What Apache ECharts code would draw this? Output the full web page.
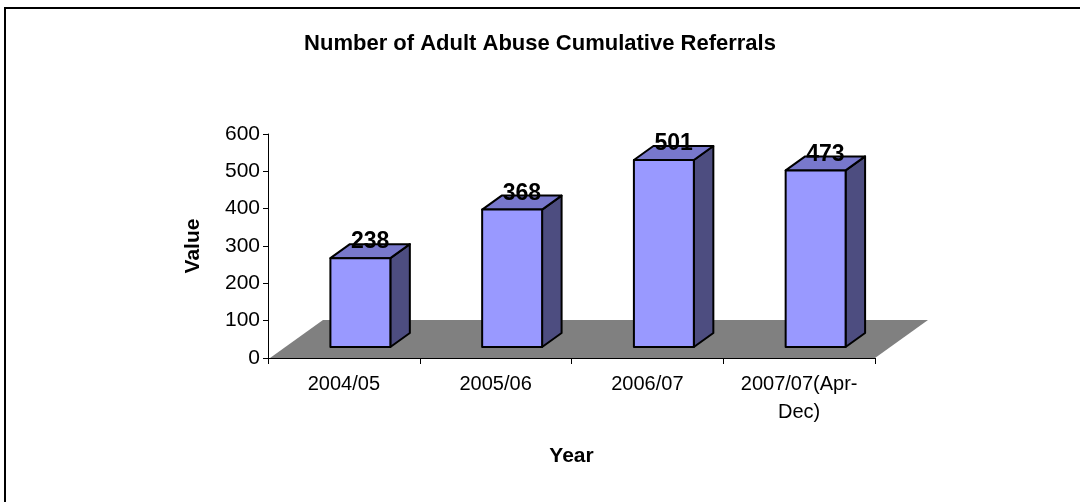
<!DOCTYPE html>
<html>
<head>
<meta charset="utf-8">
<script src="https://cdn.jsdelivr.net/npm/echarts@6/dist/echarts.min.js"></script>
<style>
html,body{margin:0;padding:0;background:#fff;}
#chart{width:1080px;height:502px;}
</style>
</head>
<body>
<div id="chart"></div>
<script>
const categories = ['2004/05', '2005/06', '2006/07', '2007/07(Apr-\nDec)'];
const values = [238, 368, 501, 473];
const yTicks = { min: 0, max: 600, interval: 100 };
const titleText = 'Number of Adult Abuse Cumulative Referrals';
const xName = 'Year';
const yName = 'Value';

const FONT = '"Liberation Sans", Arial, sans-serif';
const FLOOR_DX = 53, FLOOR_DY = 38;   // floor depth
const BAR_SHIFT_X = 16.5, BAR_SHIFT_Y = 11; // bar front position inside floor
const BAR_DX = 19.5, BAR_DY = 14;     // bar depth
const C_FRONT = '#9999FF', C_TOP = '#7878CC', C_SIDE = '#4D4D80', C_FLOOR = '#808080';

const chart = echarts.init(document.getElementById('chart'), null, { renderer: 'canvas' });

const option = {
  backgroundColor: '#ffffff',
  animation: false,
  graphic: [{
    type: 'rect', z: 100,
    shape: { x: 5, y: 8, width: 1200, height: 700 },
    style: { fill: 'none', stroke: '#000', lineWidth: 2 }
  }],
  title: {
    text: titleText, left: 'center', top: 28,
    textStyle: { fontFamily: FONT, fontSize: 22, fontWeight: 'bold', color: '#000' }
  },
  grid: { left: 268, right: 205, top: 134, bottom: 144, containLabel: false },
  xAxis: {
    type: 'category', data: categories, boundaryGap: true,
    name: xName, nameLocation: 'middle', nameGap: 88,
    nameTextStyle: { fontFamily: FONT, fontSize: 21, fontWeight: 'bold', color: '#000' },
    axisLine: { lineStyle: { color: '#000', width: 1 } },
    axisTick: { show: true, length: 6, lineStyle: { color: '#000' } },
    axisLabel: { fontFamily: FONT, fontSize: 20, color: '#000', margin: 12, lineHeight: 28, interval: 0 },
    splitLine: { show: false }
  },
  yAxis: {
    type: 'value', min: yTicks.min, max: yTicks.max, interval: yTicks.interval,
    name: yName, nameLocation: 'middle', nameGap: 64, nameRotate: 90,
    nameTextStyle: { fontFamily: FONT, fontSize: 21, fontWeight: 'bold', color: '#000' },
    axisLine: { show: true, lineStyle: { color: '#000', width: 1 } },
    axisTick: { show: true, length: 5, lineStyle: { color: '#000' } },
    axisLabel: { fontFamily: FONT, fontSize: 21, color: '#000', margin: 8 },
    splitLine: { show: false }
  },
  series: [
    {
      type: 'custom', name: 'floor', clip: false, z: 1, silent: true,
      data: [[0, 0]],
      renderItem: function (params, api) {
        const cs = params.coordSys;
        const y0 = cs.y + cs.height;
        const x0 = cs.x + 2, x1 = cs.x + cs.width;
        return {
          type: 'polygon',
          shape: { points: [[x0, y0], [x1, y0], [x1 + FLOOR_DX, y0 - FLOOR_DY], [x0 + FLOOR_DX, y0 - FLOOR_DY]] },
          style: { fill: C_FLOOR, stroke: null }
        };
      }
    },
    {
      type: 'custom', name: 'Value', clip: false, z: 2,
      data: values.map((v, i) => [i, v]),
      encode: { x: 0, y: 1 },
      renderItem: function (params, api) {
        const base = api.coord([api.value(0), 0]);
        const top = api.coord([api.value(0), api.value(1)]);
        const w = api.size([1, 0])[0] * 0.395;
        const cx = base[0] + BAR_SHIFT_X;
        const xl = cx - w / 2, xr = cx + w / 2;
        const yb = base[1] - BAR_SHIFT_Y, yt = top[1] - BAR_SHIFT_Y;
        const stroke = { stroke: '#000', lineWidth: 2, lineJoin: 'round' };
        return {
          type: 'group',
          children: [
            { type: 'polygon', shape: { points: [[xr, yt], [xr + BAR_DX, yt - BAR_DY], [xr + BAR_DX, yb - BAR_DY], [xr, yb]] },
              style: Object.assign({ fill: C_SIDE }, stroke) },
            { type: 'polygon', shape: { points: [[xl, yt], [xr, yt], [xr + BAR_DX, yt - BAR_DY], [xl + BAR_DX, yt - BAR_DY]] },
              style: Object.assign({ fill: C_TOP }, stroke) },
            { type: 'rect', shape: { x: xl, y: yt, width: w, height: yb - yt },
              style: Object.assign({ fill: C_FRONT }, stroke) },
            { type: 'text', z2: 10,
              style: { text: String(api.value(1)), x: cx + BAR_DX / 2, y: yt - 16,
                align: 'center', verticalAlign: 'middle',
                font: 'bold 23px ' + FONT, fill: '#000' } }
          ]
        };
      }
    }
  ]
};
chart.setOption(option);
</script>
</body>
</html>
